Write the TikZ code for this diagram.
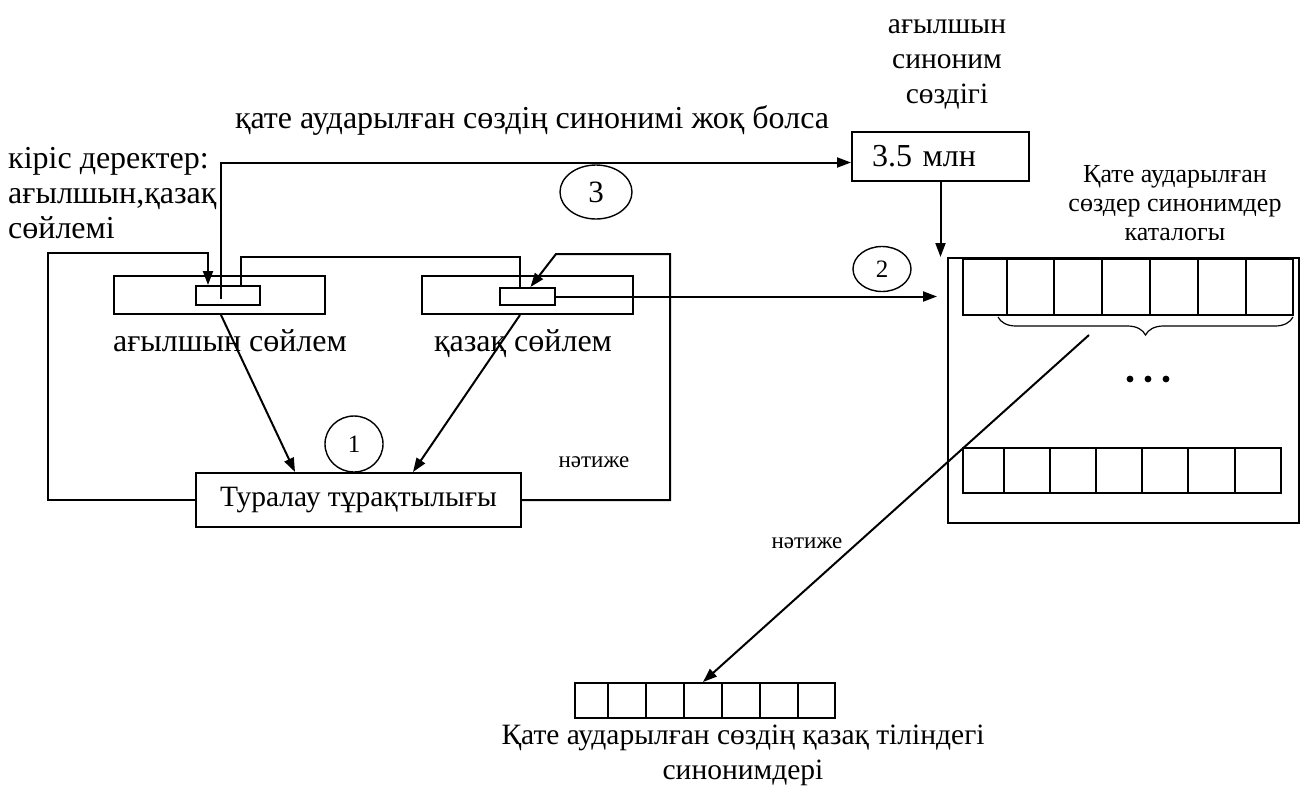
\documentclass[tikz,border=0pt]{standalone}
\usepackage{fontspec}
\setmainfont{Liberation Serif}
\usetikzlibrary{arrows.meta, calc, shapes.geometric, decorations.pathreplacing}

\begin{document}
\begin{tikzpicture}[
  % one unit is one pixel of the 1302 x 785 sheet, y runs downwards
  x=1pt, y=-1pt, font=\fontsize{32}{35}\selectfont,
  bx/.style={draw, line width=2pt, inner sep=0pt},
  cell/.style={draw, line width=2pt, inner sep=0pt},
  num/.style={draw, ellipse, line width=1.4pt, inner sep=0pt, font=\fontsize{25}{25}\selectfont},
  lbl/.style={align=center, inner sep=0pt},
  mid/.style={lbl, font=\fontsize{29.5}{35}\selectfont},
  nat/.style={inner sep=0pt, font=\fontsize{23}{25}\selectfont},
  ar/.style={-{Triangle[length=14pt, width=10pt]}, line width=2pt},
  ln/.style={line width=2pt},
]
\useasboundingbox (0,0) rectangle (1302,785);
% sentence boxes and the stability box
\node[bx, minimum width=211, minimum height=38] (en) at (219.5,295) {};
\node[bx, minimum width=64, minimum height=19] (enslot) at (228,295.5) {};
\node[bx, minimum width=211, minimum height=38] (kz) at (527.5,295) {};
\node[bx, minimum width=55, minimum height=17] (kzslot) at (527.5,296.5) {};
\node[lbl, anchor=base] (enlbl) at (230,351) {ағылшын сөйлем};
\node[lbl, anchor=base] (kzlbl) at (523,351) {қазақ сөйлем};
\node[bx, minimum width=325, minimum height=54, font=\fontsize{29.5}{35}\selectfont] (tur) at (358.5,500) {Туралау тұрақтылығы};
\node[num, minimum width=58, minimum height=56] (n1) at (354,444) {1};
\node[nat] (res1) at (594,462) {нәтиже};
% input text
\node[lbl, align=left, anchor=west] (inp) at (8,193) {кіріс деректер:\\ағылшын,қазақ\\сөйлемі};
\node[lbl, anchor=base] (nosyn) at (532,128) {қате аударылған сөздің синонимі жоқ болса};
\node[num, minimum width=72, minimum height=54, font=\fontsize{31}{31}\selectfont] (n3) at (596,192) {3};
% dictionary
\node[mid] (dictlbl) at (947,64) {ағылшын\\синоним\\сөздігі};
\node[bx, minimum width=177, minimum height=49, text width=137, inner xsep=20pt, align=left] (dict) at (940.5,156.5) {3.5 млн};
\node[num, minimum width=58, minimum height=45] (n2) at (882,269) {2};
% catalogue
\node[lbl, font=\fontsize{26}{29}\selectfont] (catlbl) at (1175,203) {Қате аударылған\\сөздер синонимдер\\каталогы};
\node[bx, line width=2.6pt, minimum width=351, minimum height=265] (cat) at (1123.5,390.5) {};
\foreach \a/\b [count=\i] in {963/1007,1007/1054,1054/1102,1102/1150,1150/1198,1198/1246,1246/1293}
  \node[cell, minimum width={\b-\a}, minimum height=56] (t\i) at ({(\a+\b)/2},287) {};
\foreach \a/\b [count=\i] in {963/1004,1004/1050,1050/1096,1096/1142,1142/1188,1188/1235,1235/1281}
  \node[cell, minimum width={\b-\a}, minimum height=45] (b\i) at ({(\a+\b)/2},470.5) {};
\draw[decorate, decoration={brace, mirror, amplitude=18pt}, line width=1.2pt]
  ($(t2.south west)+(-8,1)$) -- ($(t7.south east)+(-1,1)$);
\foreach \x in {1130,1148,1166} \fill (\x,379) circle (3.4);
% result row
\foreach \a/\b [count=\i] in {575/608,608/646,646/684,684/722,722/760,760/798,798/835}
  \node[cell, minimum width={\b-\a}, minimum height=35] (r\i) at ({(\a+\b)/2},700.5) {};
\node[mid] (reslbl) at (743,755) {Қате аударылған сөздің қазақ тіліндегі\\синонимдері};
\node[nat] (res2) at (807,543) {нәтиже};
% connectors
\coordinate (fl) at (48,253);
\coordinate (fr) at (670,254);
\coordinate (fr2) at (556,254);
\coordinate (lk) at (520,257);
\coordinate (bs) at (1089,335);
\draw[ar] (tur.west) -| (fl) -| ($(enslot.north)+(-20,0)$);
\draw[ar] (tur.east) -| (fr) -- (fr2) -- ($(kzslot.north)+(3,0)$);
\draw[ln] ($(enslot.north)+(13,0)$) |- (lk) -- (lk |- kzslot.north);
\draw[ar] ($(enslot.center)+(-7,3)$) |- ($(dict.west)+(0,6)$);
\draw[ar] (dict.south) -- (dict.south |- 257,257);
\draw[ar] (kzslot.east) -- (kzslot.east -| 937,0);
\draw[ar] ($(en.south)+(1.5,0)$) -- ($(tur.north)+(-63.5,0)$);
\draw[ar] ($(kz.south)+(-7.5,0)$) -- ($(tur.north)+(54.5,0)$);
\draw[ar] (bs) -- (r4.north);
\end{tikzpicture}
\end{document}
